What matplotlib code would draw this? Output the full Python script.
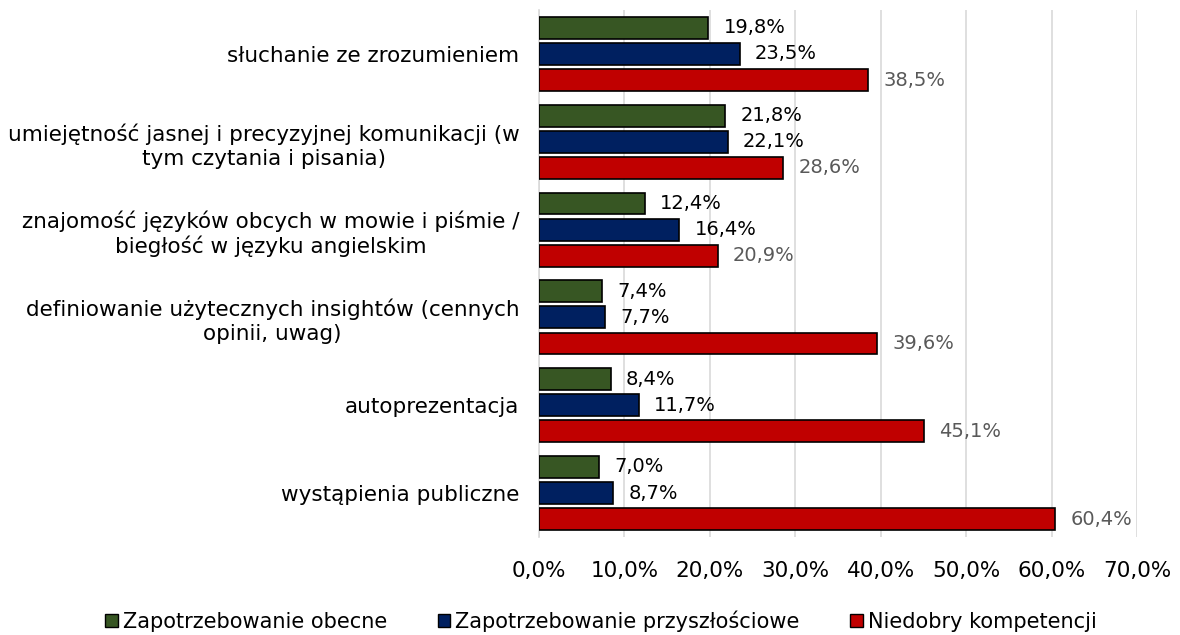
import matplotlib
matplotlib.use("Agg")
import matplotlib.pyplot as plt
import numpy as np
from matplotlib.patches import Patch

categories = [
    "słuchanie ze zrozumieniem",
    "umiejętność jasnej i precyzyjnej komunikacji (w\ntym czytania i pisania)",
    "znajomość języków obcych w mowie i piśmie /\nbiegłość w języku angielskim",
    "definiowanie użytecznych insightów (cennych\nopinii, uwag)",
    "autoprezentacja",
    "wystąpienia publiczne",
]
series_names = ["Zapotrzebowanie obecne", "Zapotrzebowanie przyszłościowe", "Niedobry kompetencji"]
current = [19.8, 21.8, 12.4, 7.4, 8.4, 7.0]
future = [23.5, 22.1, 16.4, 7.7, 11.7, 8.7]
shortage = [38.5, 28.6, 20.9, 39.6, 45.1, 60.4]
xticks = [0, 10, 20, 30, 40, 50, 60, 70]

colors = ["#375623", "#002060", "#C00000"]
label_colors = ["black", "black", "#595959"]

plt.rcParams['font.family'] = ['DejaVu Sans']
fig = plt.figure(figsize=(11.8, 6.35), dpi=100)
ax = fig.add_axes([539/1180, 1-537/635, (1137-539)/1180, (537-10)/635])

y = np.arange(len(categories))
h = 0.25
offs = [-0.297, 0.0, 0.297]
for i, (vals, col, lc) in enumerate(zip([current, future, shortage], colors, label_colors)):
    bars = ax.barh(y + offs[i], vals, height=h, color=col, edgecolor="black", linewidth=1.2, zorder=3)
    for b, v in zip(bars, vals):
        ax.annotate(f"{v:.1f}%".replace(".", ","), (v, b.get_y() + b.get_height()/2),
                    xytext=(11, 0), textcoords="offset points", va="center", ha="left",
                    fontsize=14, color=lc)

ax.set_ylim(len(categories) - 0.5, -0.5)
ax.set_xlim(0, 70)
ax.set_xticks(xticks)
ax.set_xticklabels([f"{t:.1f}%".replace(".", ",") for t in xticks], fontsize=15.5)
ax.set_yticks(y)
ax.set_yticklabels(categories, fontsize=15.5, ha="right", multialignment="center", linespacing=1.25)
ax.tick_params(axis="both", length=0)
ax.tick_params(axis="x", pad=17)
ax.tick_params(axis="y", pad=14)
ax.xaxis.grid(True, color="#D9D9D9", linewidth=1.2, zorder=0)
for s in ["top", "right", "bottom"]:
    ax.spines[s].set_visible(False)
ax.spines["left"].set_color("#D9D9D9")
ax.spines["left"].set_linewidth(1.2)

handles = [Patch(facecolor=c, edgecolor="black", linewidth=1) for c in colors]
fig.legend(handles, series_names, loc="center", bbox_to_anchor=(601/1180, 1-621/635), ncol=3,
           frameon=False, fontsize=15, handlelength=0.62, handleheight=0.62, handletextpad=0.24,
           columnspacing=2.4, borderpad=0.1)

fig.savefig("out.png", dpi=100)
